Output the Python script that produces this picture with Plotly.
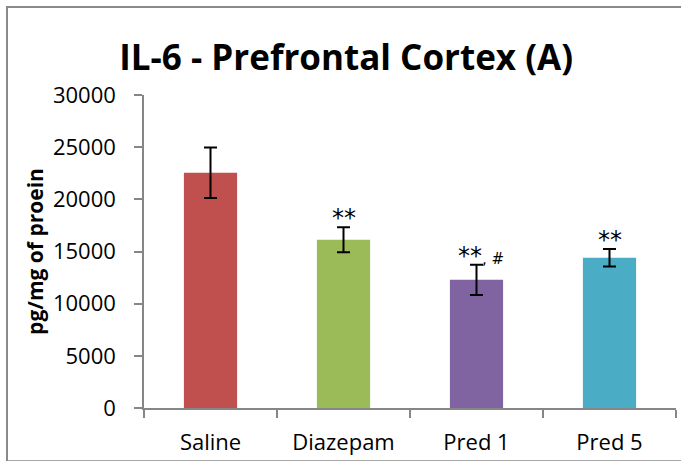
import plotly.graph_objects as go

# IL-6 levels in the prefrontal cortex, mean ± SEM
groups = ["Saline", "Diazepam", "Pred 1", "Pred 5"]
means = [22550, 16120, 12290, 14400]
sems = [2420, 1200, 1450, 830]
colors = ["#C0504D", "#9BBB59", "#8064A2", "#4BACC6"]
marks = ["", "**", "**<span style='font-size:15px'>, #</span>", "**"]

y_ticks = [0, 5000, 10000, 15000, 20000, 25000, 30000]

FONT = "Open Sans"
MARK_FONT = "DejaVu Sans"
AXIS_GREY = "#868686"

fig = go.Figure()
fig.add_trace(go.Bar(
    x=groups,
    y=means,
    marker=dict(color=colors, line=dict(width=0)),
    error_y=dict(type="data", array=sems, visible=True,
                 color="black", thickness=2, width=6.5),
    width=0.4,
    showlegend=False,
))

# significance markers above each error bar
for g, m, s, lbl in zip(groups, means, sems, marks):
    if lbl:
        fig.add_annotation(
            x=g, y=m + s, text=lbl, showarrow=False,
            yanchor="bottom", yshift=-7,
            xshift=4 if "#" in lbl else 0,
            font=dict(family=MARK_FONT, size=24, color="black"),
        )

# outer chart frame
fig.add_shape(
    type="rect", xref="paper", yref="paper",
    x0=-0.2575, x1=1.1, y0=-0.17, y1=1.281,
    line=dict(color="#8A8A8A", width=2), fillcolor="rgba(0,0,0,0)",
    layer="below",
)

fig.update_layout(
    width=681, height=461,
    margin=dict(l=144, r=5, t=95, b=53),
    paper_bgcolor="white", plot_bgcolor="white",
    font=dict(family=FONT, color="black"),
    title=dict(
        text="<b>IL-6 - Prefrontal Cortex (A)</b>",
        x=0.38, xref="paper", xanchor="center",
        y=1 - 58 / 461, yref="container", yanchor="middle",
        font=dict(family=FONT, size=35, color="black"),
    ),
    bargap=0.6,
)

fig.update_xaxes(
    type="category",
    showline=True, linecolor=AXIS_GREY, linewidth=1.5,
    ticks="outside", tickson="boundaries", ticklen=8,
    tickcolor=AXIS_GREY, tickwidth=1.5,
    tickfont=dict(family=FONT, size=22, color="black"),
    ticklabelstandoff=14,
    showgrid=False,
)
fig.update_yaxes(
    range=[0, 30000], tickvals=y_ticks,
    ticktext=[str(v) for v in y_ticks],
    showline=True, linecolor=AXIS_GREY, linewidth=1.5,
    ticks="outside", ticklen=8, tickcolor=AXIS_GREY, tickwidth=1.5,
    tickfont=dict(family=FONT, size=22, color="black"),
    ticklabelstandoff=14,
    showgrid=False, zeroline=False,
    title=dict(text="<b>pg/mg of proein</b>", standoff=4,
               font=dict(family=FONT, size=21, color="black")),
)

fig.write_html("out.html")
